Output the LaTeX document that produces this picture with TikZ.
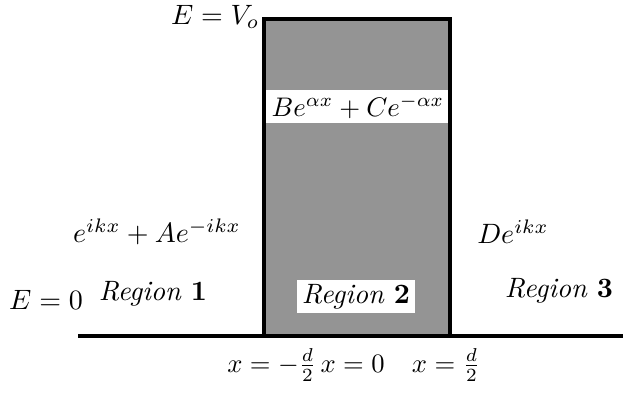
\documentclass[tikz,border=0pt]{standalone}
\begin{document}
\begin{tikzpicture}[x=1pt,y=-1pt,
  lbl/.style={scale=2.8,inner sep=0pt},
  whitebox/.style={fill=white,draw=none}]
\useasboundingbox (0,0) rectangle (623,392);
% barrier
\fill[black!42] (264,19) rectangle (450,337);
\fill[whitebox] (266,90) rectangle (448,123);
\fill[whitebox] (297,280) rectangle (415,313);
\draw[line width=4.5pt,line join=miter] (264,337) -- (264,19) -- (450,19) -- (450,337);
% ground
\draw[line width=4.5pt] (78,336) -- (623,336);
% labels
\node[lbl,anchor=east] (ev) at (260,17) {$E = V_o$};
\node[lbl,scale=0.96] (band) at (358,107) {$Be^{\alpha x} + Ce^{-\alpha x}$};
\node[lbl] (psi1) at (157,232) {$e^{ikx} + Ae^{-ikx}$};
\node[lbl] (psi3) at (513,232) {$De^{ikx}$};
\node[lbl] (e0) at (46,300) {$E = 0$};
\node[lbl] (r1) at (153,294) {\textit{Region} \textbf{1}};
\node[lbl] (r2) at (356,297) {\textit{Region} \textbf{2}};
\node[lbl] (r3) at (559,291) {\textit{Region} \textbf{3}};
\node[lbl,scale=0.95,anchor=base] (xl) at (306,372) {$x = -\frac{d}{2}\, x = 0$};
\node[lbl,scale=0.95,anchor=base] (xr) at (446,372) {$x = \frac{d}{2}$};
\end{tikzpicture}
\end{document}
